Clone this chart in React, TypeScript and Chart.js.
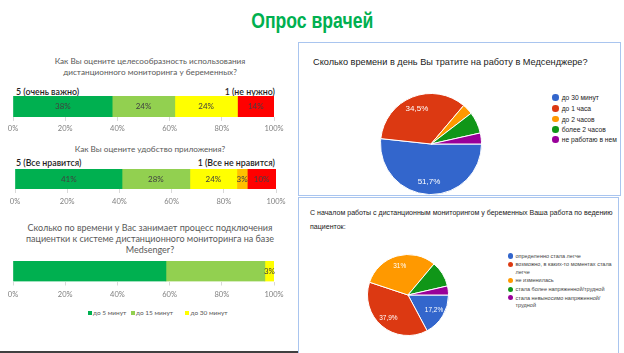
import React, { useEffect, useRef } from "react";
import { Chart, registerables } from "chart.js";
Chart.register(...registerables);

const LEFT_FONT = "Lato, 'Open Sans', sans-serif";
const RIGHT_FONT = "'Liberation Sans', Arial, sans-serif";

// ---- Data ----
const percentTicks = [0, 20, 40, 60, 80, 100];

const q1Series = ["5", "4", "3", "1"];
const q1Values = [38, 24, 24, 14];
const q1Labels = ["38%", "24%", "24%", "14%"];
const q1Colors = ["#00b050", "#92d050", "#ffff00", "#ff0000"];

const q2Series = ["5", "4", "3", "2", "1"];
const q2Values = [41, 26, 18, 4, 11];
const q2Labels = ["41%", "28%", "24%", "3%", "10%"];
const q2Colors = ["#00b050", "#92d050", "#ffff00", "#ffc000", "#ff0000"];

const q3Series = ["до 5 минут", "до 15 минут", "до 30 минут"];
const q3Values = [58.6, 37.9, 3.5];
const q3Labels = ["", "", "3%"];
const q3Colors = ["#00b050", "#92d050", "#ffff00"];

const pie1Categories = ["до 30 минут", "до 1 часа", "до 2 часов", "более 2 часов", "не работаю в нем"];
const pie1Values = [51.7, 34.5, 3.4, 6.9, 3.5];
const pie1Labels = ["51,7%", "34,5%", "", "", ""];

const pie2Categories = [
  "определенно стала легче",
  "возможно, в каких-то моментах стала легче",
  "не изменилась",
  "стала более напряженной/трудной",
  "стала невыносимо напряженной/трудной",
];
const pie2LegendLines = [
  ["определенно стала легче"],
  ["возможно, в каких-то моментах стала", "легче"],
  ["не изменилась"],
  ["стала более напряженной/трудной"],
  ["стала невыносимо напряженной/", "трудной"],
];
const pie2Values = [17.2, 37.9, 31, 10.3, 3.6];
const pie2Labels = ["17,2%", "37,9%", "31%", "", ""];

const pieColors = ["#3366cc", "#dc3912", "#ff9900", "#109618", "#990099"];

// ---- Plugins ----
function barLabelPlugin(labels: string[]) {
  return {
    id: "barLabels",
    afterDatasetsDraw(chart: any) {
      const ctx = chart.ctx;
      ctx.save();
      ctx.font = `8px ${LEFT_FONT}`;
      ctx.fillStyle = "#404040";
      ctx.textAlign = "center";
      ctx.textBaseline = "middle";
      chart.data.datasets.forEach((_: any, i: number) => {
        const t = labels[i];
        if (!t) return;
        const el = chart.getDatasetMeta(i).data[0];
        const { x, base, y } = el.getProps(["x", "base", "y"], true);
        ctx.fillText(t, (x + base) / 2, y);
      });
      ctx.restore();
    },
  };
}

function pieLabelPlugin(labels: string[], size: number) {
  return {
    id: "pieLabels",
    afterDatasetsDraw(chart: any) {
      const ctx = chart.ctx;
      ctx.save();
      ctx.font = `${size}px ${RIGHT_FONT}`;
      ctx.fillStyle = "#ffffff";
      ctx.textAlign = "center";
      ctx.textBaseline = "middle";
      const meta = chart.getDatasetMeta(0);
      meta.data.forEach((arc: any, i: number) => {
        const t = labels[i];
        if (!t) return;
        const { x, y, startAngle, endAngle, outerRadius } = arc.getProps(
          ["x", "y", "startAngle", "endAngle", "outerRadius"],
          true
        );
        const mid = (startAngle + endAngle) / 2;
        const r = outerRadius * 0.75;
        ctx.fillText(t, x + Math.cos(mid) * r, y + Math.sin(mid) * r);
      });
      ctx.restore();
    },
  };
}

// ---- Components ----
type BarProps = {
  left: number;
  top: number;
  width: number;
  height: number;
  padLeft: number;
  padRight: number;
  tickPad: number;
  series: string[];
  values: number[];
  labels: string[];
  colors: string[];
};

function StackedBar(p: BarProps) {
  const ref = useRef<HTMLCanvasElement>(null);
  useEffect(() => {
    const chart = new Chart(ref.current as HTMLCanvasElement, {
      type: "bar",
      data: {
        labels: [""],
        datasets: p.series.map((s, i) => ({
          label: s,
          data: [p.values[i]],
          backgroundColor: p.colors[i],
          borderWidth: 0,
          barPercentage: 1,
          categoryPercentage: 1,
        })),
      },
      options: {
        indexAxis: "y",
        animation: false,
        responsive: false,
        layout: { padding: { left: p.padLeft, right: p.padRight, top: 0, bottom: 0 } },
        plugins: { legend: { display: false }, tooltip: { enabled: false } },
        scales: {
          x: {
            stacked: true,
            min: 0,
            max: 100,
            afterBuildTicks: (axis: any) => {
              axis.ticks = percentTicks.map((v) => ({ value: v }));
            },
            ticks: {
              callback: (v: any) => v + "%",
              color: "#7f7f7f",
              font: { family: LEFT_FONT, size: 7.5 },
              padding: p.tickPad,
              maxRotation: 0,
            },
            grid: { drawOnChartArea: false, drawTicks: true, tickLength: 4, color: "#d9d9d9" },
            border: { display: false },
          },
          y: { stacked: true, display: false },
        },
      } as any,
      plugins: [barLabelPlugin(p.labels)],
    });
    return () => chart.destroy();
  }, []);
  return (
    <canvas
      ref={ref}
      width={p.width}
      height={p.height}
      style={{ position: "absolute", left: p.left, top: p.top, width: p.width, height: p.height }}
    />
  );
}

type PieProps = {
  left: number;
  top: number;
  size: number;
  categories: string[];
  values: number[];
  labels: string[];
  labelSize: number;
};

function Pie(p: PieProps) {
  const ref = useRef<HTMLCanvasElement>(null);
  useEffect(() => {
    const chart = new Chart(ref.current as HTMLCanvasElement, {
      type: "pie",
      data: {
        labels: p.categories,
        datasets: [
          {
            data: p.values,
            backgroundColor: pieColors,
            borderColor: "#ffffff",
            borderWidth: 1,
          },
        ],
      },
      options: {
        animation: false,
        responsive: false,
        rotation: 90,
        layout: { padding: 0 },
        plugins: { legend: { display: false }, tooltip: { enabled: false } },
      } as any,
      plugins: [pieLabelPlugin(p.labels, p.labelSize)],
    });
    return () => chart.destroy();
  }, []);
  return (
    <canvas
      ref={ref}
      width={p.size}
      height={p.size}
      style={{ position: "absolute", left: p.left, top: p.top, width: p.size, height: p.size }}
    />
  );
}

function Txt(props: {
  x: number;
  cy: number;
  text: string;
  size: number;
  color: string;
  font: string;
  align?: "left" | "center" | "right";
  weight?: any;
  w?: number;
}) {
  const lh = Math.round(props.size * 1.4);
  const align = props.align || "left";
  const w = props.w || 320;
  let left = props.x;
  if (align === "center") left = props.x - w / 2;
  if (align === "right") left = props.x - w;
  return (
    <div
      style={{
        position: "absolute",
        left,
        top: props.cy - lh / 2,
        width: w,
        height: lh,
        lineHeight: lh + "px",
        fontSize: props.size,
        fontFamily: props.font,
        color: props.color,
        textAlign: align,
        fontWeight: props.weight || "normal",
        whiteSpace: "nowrap",
      }}
    >
      {props.text}
    </div>
  );
}

const leftTitle = "#595959";

export default function App() {
  const legend1Y = [97.3, 108.3, 119, 129.5, 139.5];
  const legend2 = [
    { dot: 256, lines: [256] },
    { dot: 264.3, lines: [264.3, 271.8] },
    { dot: 280.3, lines: [280.3] },
    { dot: 289.2, lines: [289.2] },
    { dot: 297.7, lines: [297.7, 305.2] },
  ];
  const q3LegendX = [
    { sq: 87.5, tx: 93 },
    { sq: 130.5, tx: 136 },
    { sq: 185, tx: 190.5 },
  ];
  return (
    <div
      style={{
        position: "absolute",
        left: 0,
        top: 0,
        width: 624,
        height: 353,
        background: "#ffffff",
        overflow: "hidden",
      }}
    >
      {/* Slide title */}
      <div
        style={{
          position: "absolute",
          left: 0,
          top: 7,
          width: 624,
          textAlign: "center",
          lineHeight: "28px",
        }}
      >
        <span
          style={{
            display: "inline-block",
            transform: "scaleX(0.8)",
            transformOrigin: "50% 50%",
            fontFamily: "'Liberation Sans', Arial, sans-serif",
            fontWeight: "bold",
            fontSize: 22,
            color: "#00b050",
          }}
        >
          Опрос врачей
        </span>
      </div>

      {/* Right boxes */}
      <div style={{ position: "absolute", left: 298, top: 42, width: 321, height: 152, border: "1px solid #a9c5ef" }} />
      <div style={{ position: "absolute", left: 298, top: 197, width: 319, height: 170, border: "1px solid #a9c5ef" }} />
      {/* bottom line */}
      <div style={{ position: "absolute", left: 0, top: 351, width: 298, height: 2, background: "#404040" }} />

      {/* Q1 */}
      <Txt x={150} cy={61.7} text="Как Вы оцените целесообразность использования" size={8.2} color={leftTitle} font={LEFT_FONT} align="center" />
      <Txt x={150} cy={72.3} text="дистанционного мониторинга у беременных?" size={8.2} color={leftTitle} font={LEFT_FONT} align="center" />
      <Txt x={16} cy={91.7} text="5 (очень важно)" size={8.8} color="#1f1f1f" font={LEFT_FONT} weight={600} />
      <Txt x={275} cy={91.7} text="1 (не нужно)" size={8.8} color="#1f1f1f" font={LEFT_FONT} align="right" weight={600} />
      <StackedBar left={0} top={96} width={290} height={40} padLeft={13} padRight={16} tickPad={3} series={q1Series} values={q1Values} labels={q1Labels} colors={q1Colors} />

      {/* Q2 */}
      <Txt x={150} cy={149} text="Как Вы оцените удобство приложения?" size={8.2} color={leftTitle} font={LEFT_FONT} align="center" />
      <Txt x={16} cy={163.3} text="5 (Все нравится)" size={8.8} color="#1f1f1f" font={LEFT_FONT} weight={600} />
      <Txt x={275} cy={163.3} text="1 (Все не нравится)" size={8.8} color="#1f1f1f" font={LEFT_FONT} align="right" weight={600} />
      <StackedBar left={0} top={169} width={290} height={40} padLeft={15} padRight={14} tickPad={4} series={q2Series} values={q2Values} labels={q2Labels} colors={q2Colors} />

      {/* Q3 */}
      <Txt x={150} cy={227.3} text="Сколько по времени у Вас занимает процесс подключения" size={9} color={leftTitle} font={LEFT_FONT} align="center" />
      <Txt x={150} cy={238.5} text="пациентки к системе дистанционного мониторинга на базе" size={9} color={leftTitle} font={LEFT_FONT} align="center" />
      <Txt x={150} cy={249.5} text="Medsenger?" size={9} color={leftTitle} font={LEFT_FONT} align="center" />
      <StackedBar left={0} top={261} width={290} height={41} padLeft={13} padRight={16} tickPad={5} series={q3Series} values={q3Values} labels={q3Labels} colors={q3Colors} />
      {q3Series.map((s, i) => (
        <React.Fragment key={s}>
          <div style={{ position: "absolute", left: q3LegendX[i].sq, top: 310.7, width: 4, height: 4, background: q3Colors[i] }} />
          <Txt x={q3LegendX[i].tx} cy={312.7} text={s} size={6.5} color="#595959" font={LEFT_FONT} w={60} />
        </React.Fragment>
      ))}

      {/* Pie 1 */}
      <Txt x={313} cy={62.7} text="Сколько времени в день Вы тратите на работу в Медсенджере?" size={9.2} color="#212121" font={RIGHT_FONT} />
      <Pie left={380} top={93} size={102} categories={pie1Categories} values={pie1Values} labels={pie1Labels} labelSize={8} />
      {pie1Categories.map((c, i) => (
        <React.Fragment key={c}>
          <div style={{ position: "absolute", left: 552.4, top: legend1Y[i] - 3.3, width: 6.6, height: 6.6, borderRadius: "50%", background: pieColors[i] }} />
          <Txt x={561.7} cy={legend1Y[i]} text={c} size={6.7} color="#222222" font={RIGHT_FONT} w={60} />
        </React.Fragment>
      ))}

      {/* Pie 2 */}
      <Txt x={310} cy={213.3} text="С началом работы с дистанционным мониторингом у беременных Ваша работа по ведению" size={7.05} color="#212121" font={RIGHT_FONT} />
      <Txt x={310} cy={226.7} text="пациенток:" size={7.05} color="#212121" font={RIGHT_FONT} />
      <Pie left={367} top={254} size={82} categories={pie2Categories} values={pie2Values} labels={pie2Labels} labelSize={6.5} />
      {legend2.map((it, i) => (
        <React.Fragment key={i}>
          <div style={{ position: "absolute", left: 508, top: it.dot - 2.6, width: 5.2, height: 5.2, borderRadius: "50%", background: pieColors[i] }} />
          {pie2LegendLines[i].map((ln, j) => (
            <Txt key={j} x={515.5} cy={it.lines[j]} text={ln} size={5.5} color="#444444" font={RIGHT_FONT} w={100} />
          ))}
        </React.Fragment>
      ))}
    </div>
  );
}
